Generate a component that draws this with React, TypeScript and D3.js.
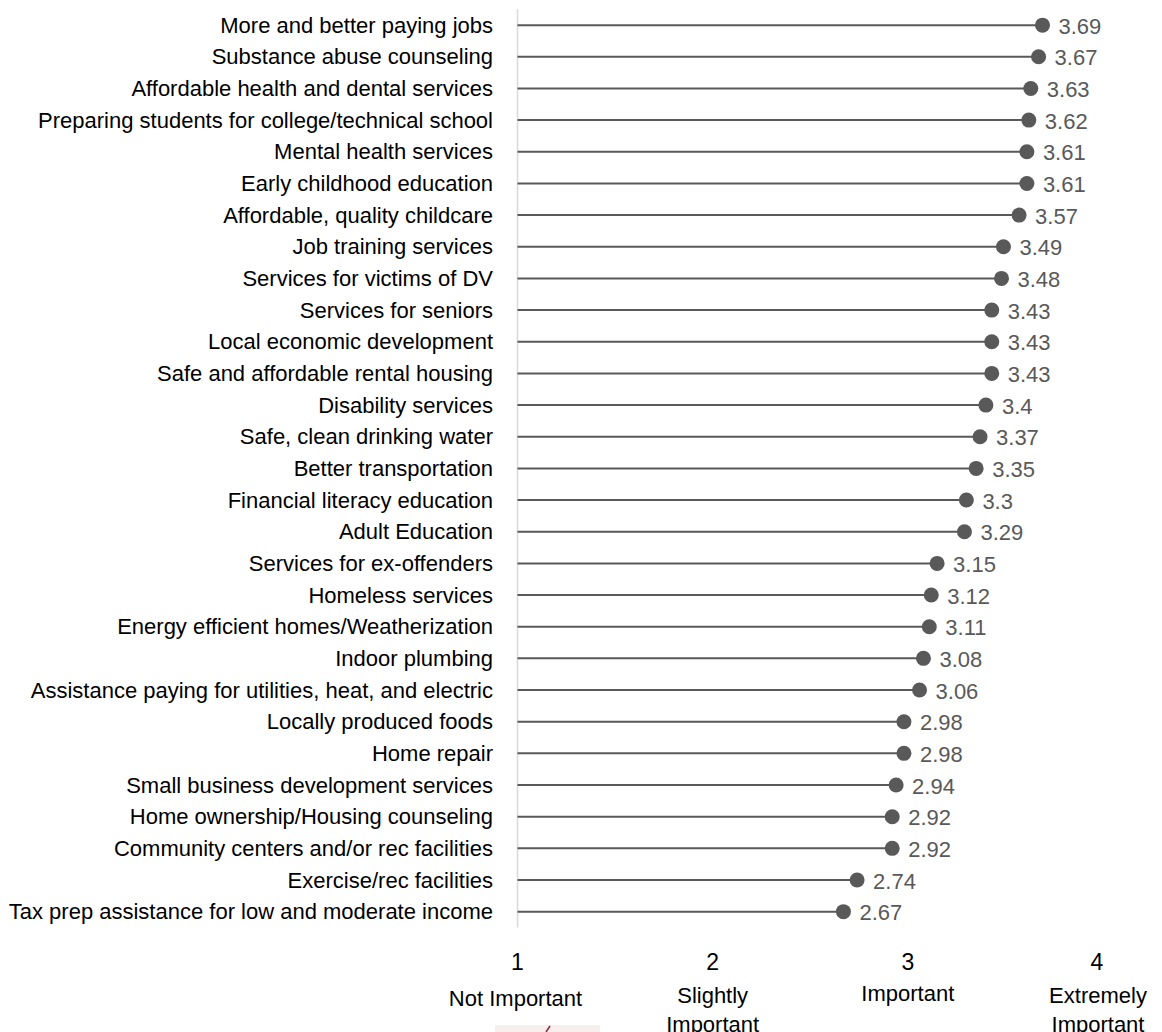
import React from "react";
import * as d3 from "d3";

const categories = [
  "More and better paying jobs",
  "Substance abuse counseling",
  "Affordable health and dental services",
  "Preparing students for college/technical school",
  "Mental health services",
  "Early childhood education",
  "Affordable, quality childcare",
  "Job training services",
  "Services for victims of DV",
  "Services for seniors",
  "Local economic development",
  "Safe and affordable rental housing",
  "Disability services",
  "Safe, clean drinking water",
  "Better transportation",
  "Financial literacy education",
  "Adult Education",
  "Services for ex-offenders",
  "Homeless services",
  "Energy efficient homes/Weatherization",
  "Indoor plumbing",
  "Assistance paying for utilities, heat, and electric",
  "Locally produced foods",
  "Home repair",
  "Small business development services",
  "Home ownership/Housing counseling",
  "Community centers and/or rec facilities",
  "Exercise/rec facilities",
  "Tax prep assistance for low and moderate income",
];

const values = [
  3.69, 3.67, 3.63, 3.62, 3.61, 3.61, 3.57, 3.49, 3.48, 3.43, 3.43, 3.43, 3.4,
  3.37, 3.35, 3.3, 3.29, 3.15, 3.12, 3.11, 3.08, 3.06, 2.98, 2.98, 2.94, 2.92,
  2.92, 2.74, 2.67,
];

const ticks = [1, 2, 3, 4];
const tickLabels = [["Not Important"], ["Slightly", "Important"], ["Important"], ["Extremely", "Important"]];

const W = 1162;
const H = 1032;
const FONT = "'Liberation Sans', Arial, sans-serif";

export default function App() {
  const x = d3.scaleLinear().domain([1, 4]).range([517.5, 1103]);
  const y = d3.scaleBand<string>().domain(categories).range([9.3, 927.5]).padding(0);
  const bw = y.bandwidth();
  const fmt = (v: number) => String(v);

  return (
    <svg
      width={W}
      height={H}
      style={{ position: "absolute", left: 0, top: 0, background: "#fff" }}
      fontFamily={FONT}
    >
      <line x1={x(1)} x2={x(1)} y1={y.range()[0]} y2={y.range()[1]} stroke="#d9d9d9" strokeWidth={1.5} />
      {categories.map((c, i) => {
        const cy = (y(c) as number) + bw / 2;
        const v = values[i];
        return (
          <g key={c}>
            <text x={493} y={cy} textAnchor="end" dominantBaseline="central" fontSize={22} fill="#000">
              {c}
            </text>
            <line x1={x(1)} x2={x(v)} y1={cy} y2={cy} stroke="#595959" strokeWidth={2} />
            <circle cx={x(v)} cy={cy} r={7.5} fill="#595959" />
            <text x={x(v) + 16} y={cy + 1} dominantBaseline="central" fontSize={22} fill="#595959">
              {fmt(v)}
            </text>
          </g>
        );
      })}
      {ticks.map((t, i) => (
        <g key={t}>
          <text x={x(t) - (i === 3 ? 6 : 0)} y={962} textAnchor="middle" dominantBaseline="central" fontSize={23} fill="#000">
            {t}
          </text>
          {tickLabels[i].map((l, j) => (
            <text
              key={j}
              x={x(t) - (i === 0 ? 2 : i === 3 ? 5 : 0)}
              y={(i === 2 ? 993 : i === 0 ? 998 : 995) + j * 29}
              textAnchor="middle"
              dominantBaseline="central"
              fontSize={22}
              fill="#000"
            >
              {l}
            </text>
          ))}
        </g>
      ))}
      <rect x={495} y={1025} width={105} height={7} fill="#f7eeee" />
      <line x1={546} x2={550} y1={1032} y2={1026} stroke="#8b2a3a" strokeWidth={1.5} />
    </svg>
  );
}
